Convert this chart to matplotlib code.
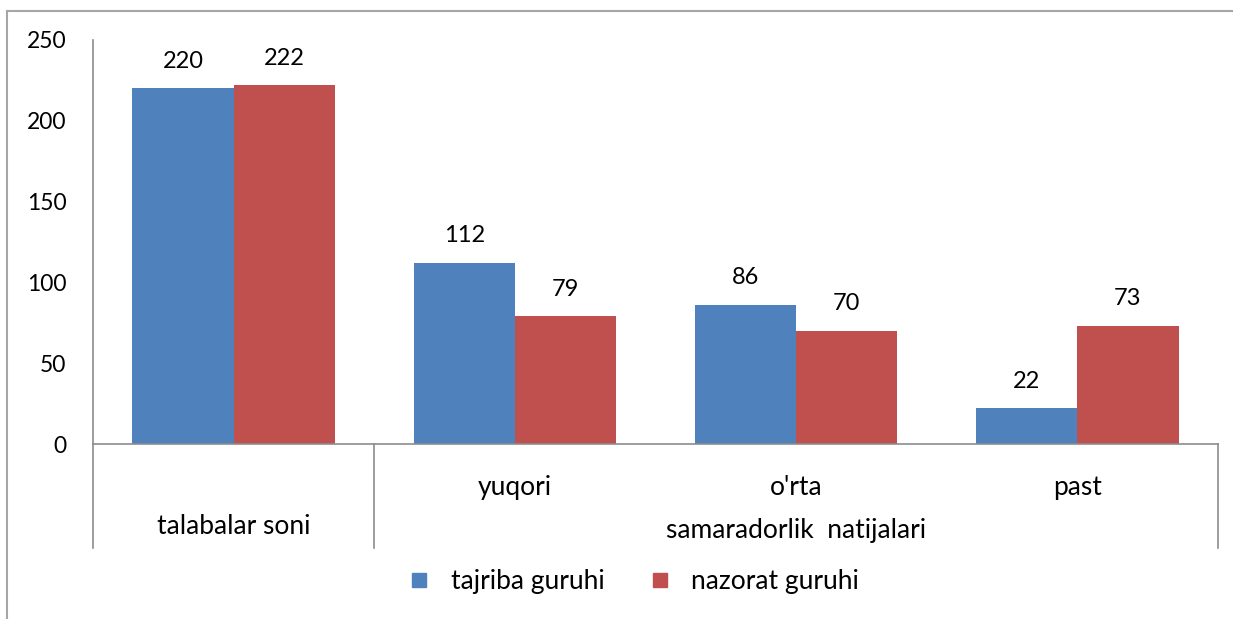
import numpy as np
import matplotlib
matplotlib.use("Agg")
import matplotlib.pyplot as plt
from matplotlib.lines import Line2D
import matplotlib.transforms as mtransforms

plt.rcParams['font.family'] = ['Lato', 'DejaVu Sans']

# data
categories = ["talabalar soni", "yuqori", "o'rta", "past"]
group_label = "samaradorlik  natijalari"
tajriba = [220, 112, 86, 22]
nazorat = [222, 79, 70, 73]
series_names = ["tajriba guruhi", "nazorat guruhi"]
y_ticks = [0, 50, 100, 150, 200, 250]

blue = '#4F81BD'
red = '#C0504D'
axis_gray = '#8C8C8C'

fig = plt.figure(figsize=(12.33, 6.19), dpi=100)
ax = fig.add_axes([0.0754, 0.2827, 0.9124, 0.6527])

x = np.arange(len(categories))
w = 0.36
b1 = ax.bar(x - w / 2, tajriba, w, color=blue)
b2 = ax.bar(x + w / 2, nazorat, w, color=red)

for bars, vals in ((b1, tajriba), (b2, nazorat)):
    for rect, v in zip(bars, vals):
        ax.annotate(str(v), (rect.get_x() + rect.get_width() / 2, v),
                    xytext=(0, 12), textcoords='offset points',
                    ha='center', va='bottom', fontsize=17)

ax.set_xlim(-0.5, len(categories) - 0.5)
ax.set_ylim(0, 250)
ax.set_yticks(y_ticks)
ax.tick_params(axis='y', length=0, labelsize=16.5, pad=19)
ax.set_xticks([])

for s in ('top', 'right'):
    ax.spines[s].set_visible(False)
ax.spines['left'].set_color(axis_gray)
ax.spines['bottom'].set_color(axis_gray)
ax.spines['left'].set_linewidth(1.2)
ax.spines['bottom'].set_linewidth(1.2)

# multi-level category axis
trans = mtransforms.blended_transform_factory(ax.transData, ax.transAxes)
for xb in (-0.5, 0.5, len(categories) - 0.5):
    ax.add_line(Line2D([xb, xb], [0, -0.258], transform=trans,
                       color=axis_gray, lw=1.2, clip_on=False))

ax.text(x[0], -0.205, categories[0], transform=trans, ha='center',
        va='center', fontsize=19)
for xi, lab in zip(x[1:], categories[1:]):
    ax.text(xi, -0.107, lab, transform=trans, ha='center', va='center',
            fontsize=19)
ax.text((x[1] + x[-1]) / 2, -0.213, group_label, transform=trans,
        ha='center', va='center', fontsize=19)

# legend
handles = [Line2D([], [], marker='s', ls='none', markersize=10, color=c)
           for c in (blue, red)]
fig.legend(handles, series_names, loc='center', bbox_to_anchor=(0.513, 0.06),
           ncol=2, frameon=False, fontsize=19, handletextpad=0.7,
           columnspacing=1.6, handlelength=1.0)

# chart border (left and top)
bx = 7 / 1233
by = 1 - 11 / 619
fig.add_artist(Line2D([bx, bx], [0, by], color='#A6A6A6', lw=1.5))
fig.add_artist(Line2D([bx, 1], [by, by], color='#A6A6A6', lw=1.5))

fig.savefig('out.png', dpi=100)
